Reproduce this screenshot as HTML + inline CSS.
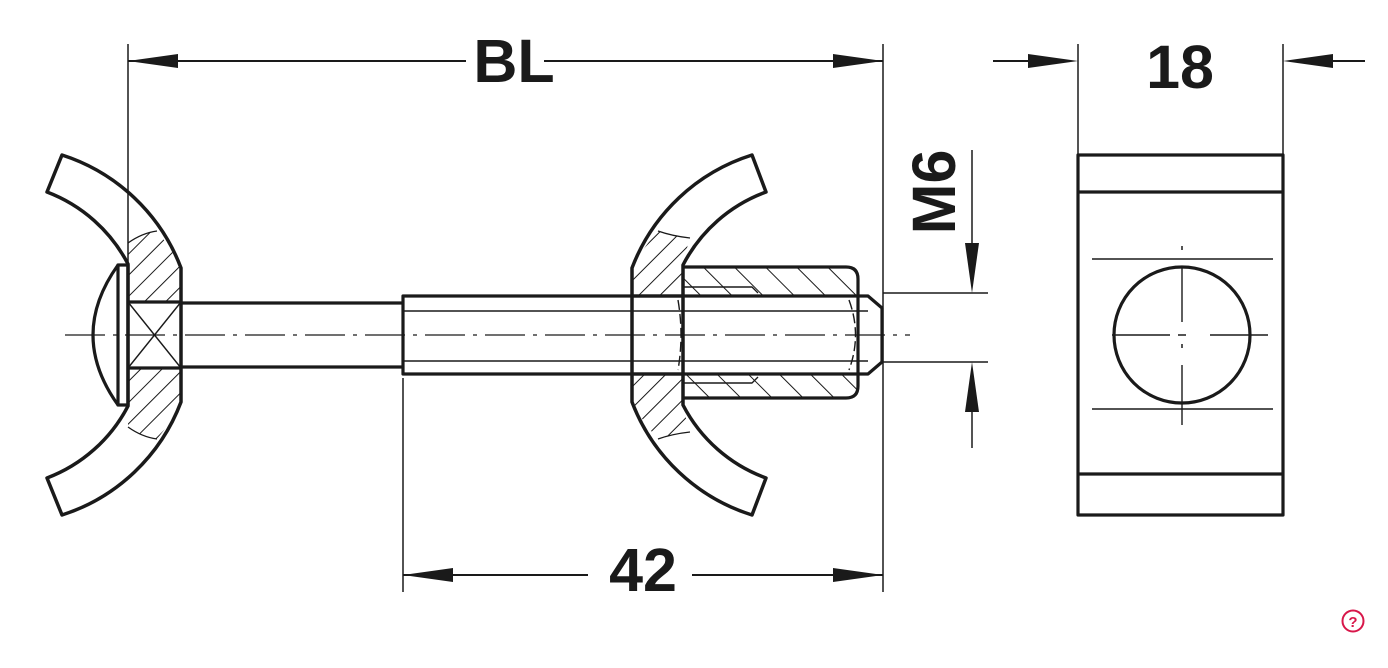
<!DOCTYPE html>
<html><head><meta charset="utf-8"><style>
html,body{margin:0;padding:0;background:#fff;}
svg{display:block;}
text{font-family:"Liberation Sans",Arial,sans-serif;font-weight:bold;fill:#1a1a1a;}
</style></head><body>
<svg width="1388" height="668" viewBox="0 0 1388 668" xmlns="http://www.w3.org/2000/svg">
<defs>
<pattern id="hf" patternUnits="userSpaceOnUse" width="15" height="15" patternTransform="rotate(45)">
<line x1="0" y1="0" x2="0" y2="15" stroke="#1a1a1a" stroke-width="2"/>
</pattern>
<pattern id="hb" patternUnits="userSpaceOnUse" width="22" height="22" patternTransform="rotate(-45)">
<line x1="0" y1="0" x2="0" y2="22" stroke="#1a1a1a" stroke-width="2"/>
</pattern>
</defs>
<g fill="none" stroke="#1a1a1a" stroke-linejoin="round">
<line x1="128" y1="44" x2="128" y2="265" stroke-width="1.5"/>
<line x1="883" y1="44" x2="883" y2="592" stroke-width="1.5"/>
<line x1="128" y1="61" x2="466" y2="61" stroke-width="2"/>
<line x1="544" y1="61" x2="883" y2="61" stroke-width="2"/>
<line x1="403" y1="378" x2="403" y2="592" stroke-width="1.5"/>
<line x1="403" y1="575" x2="588" y2="575" stroke-width="2"/>
<line x1="692" y1="575" x2="883" y2="575" stroke-width="2"/>
<line x1="883" y1="293" x2="988" y2="293" stroke-width="1.5"/>
<line x1="883" y1="362" x2="988" y2="362" stroke-width="1.5"/>
<line x1="972" y1="150" x2="972" y2="260" stroke-width="1.5"/>
<line x1="972" y1="395" x2="972" y2="448" stroke-width="1.5"/>
<line x1="1078" y1="44" x2="1078" y2="155" stroke-width="1.5"/>
<line x1="1283" y1="44" x2="1283" y2="155" stroke-width="1.5"/>
<line x1="993" y1="61" x2="1040" y2="61" stroke-width="2"/>
<line x1="1320" y1="61" x2="1365" y2="61" stroke-width="2"/>

<path d="M128,243 Q142,233 157,231 A189,189 0 0 1 181,268 L181,302 L128,302 Z" fill="url(#hf)" stroke="none"/>
<path d="M128,427 Q142,437 157,439 A189,189 0 0 0 181,402 L181,368 L128,368 Z" fill="url(#hf)" stroke="none"/>
<path d="M128,243 Q142,233 157,231" stroke-width="1.3"/>
<path d="M128,427 Q142,437 157,439" stroke-width="1.3"/>
<path d="M62,155 A189,189 0 0 1 181,268 L181,402 A189,189 0 0 1 62,515 L47,478 A152,152 0 0 0 128,406 L128,264 A152,152 0 0 0 47,192 Z" stroke-width="3.5"/>
<rect x="118" y="265" width="10" height="140" stroke-width="3.2"/>
<path d="M118,265 Q68,335 118,405" stroke-width="3.2"/>
<line x1="128" y1="302" x2="181" y2="302" stroke-width="3.2"/>
<line x1="128" y1="368" x2="181" y2="368" stroke-width="3.2"/>
<line x1="128" y1="302" x2="181" y2="368" stroke-width="1.4"/>
<line x1="181" y1="302" x2="128" y2="368" stroke-width="1.4"/>
<line x1="181" y1="303" x2="403" y2="303" stroke-width="3.2"/>
<line x1="181" y1="367" x2="403" y2="367" stroke-width="3.2"/>
<path d="M403,296 L868,296 L882,308 L882,362 L868,374 L403,374 Z" stroke-width="3.2"/>
<line x1="403" y1="311" x2="868" y2="311" stroke-width="1.6"/>
<line x1="403" y1="361" x2="868" y2="361" stroke-width="1.6"/>
<path d="M849,300 Q862,335 849,370" stroke-width="1.4" stroke-dasharray="10,4"/>
<path d="M678,300 Q684,335 678,370" stroke-width="1.4" stroke-dasharray="10,4"/>

<path d="M632,268 A189,189 0 0 1 658,231 Q672,236 690,238 Q686,250 683,265 L683,296 L632,296 Z" fill="url(#hf)" stroke="none"/>
<path d="M632,402 A189,189 0 0 0 658,439 Q672,434 690,432 Q686,420 683,405 L683,374 L632,374 Z" fill="url(#hf)" stroke="none"/>
<path d="M658,231 Q672,236 690,238" stroke-width="1.3"/>
<path d="M658,439 Q672,434 690,432" stroke-width="1.3"/>
<path d="M752,155 A189,189 0 0 0 632,268 L632,402 A189,189 0 0 0 752,515 L766,478 A152,152 0 0 1 683,405 L683,265 A152,152 0 0 1 766,192 Z" stroke-width="3.5"/>
<path d="M683,267 L846,267 Q858,267 858,279 L858,296 L683,296 Z" fill="url(#hb)" stroke="none"/>
<path d="M683,374 L858,374 L858,386 Q858,398 846,398 L683,398 Z" fill="url(#hb)" stroke="none"/>
<path d="M683,267 L846,267 Q858,267 858,279 L858,386 Q858,398 846,398 L683,398" stroke-width="3.2"/>
<path d="M683,287 L752,287 L758,293" stroke-width="1.4"/>
<path d="M683,383 L752,383 L758,377" stroke-width="1.4"/>
<line x1="632" y1="296" x2="683" y2="296" stroke-width="3.2"/>
<line x1="632" y1="374" x2="683" y2="374" stroke-width="3.2"/>

<line x1="65" y1="335" x2="910" y2="335" stroke-width="1.3" stroke-dasharray="40,8,4,8"/>

<rect x="1078" y="155" width="205" height="360" stroke-width="3.2"/>
<line x1="1078" y1="192" x2="1283" y2="192" stroke-width="3.2"/>
<line x1="1078" y1="474" x2="1283" y2="474" stroke-width="3.2"/>
<line x1="1092" y1="259" x2="1273" y2="259" stroke-width="1.4"/>
<line x1="1092" y1="409" x2="1273" y2="409" stroke-width="1.4"/>
<circle cx="1182" cy="335" r="68" stroke-width="3.2"/>
<line x1="1182" y1="246" x2="1182" y2="250" stroke-width="1.5"/>
<line x1="1182" y1="266" x2="1182" y2="322" stroke-width="1.4"/>
<line x1="1182" y1="344" x2="1182" y2="348" stroke-width="1.5"/>
<line x1="1182" y1="365" x2="1182" y2="425" stroke-width="1.4"/>
<line x1="1112" y1="335" x2="1170" y2="335" stroke-width="1.4"/>
<line x1="1178" y1="335" x2="1186" y2="335" stroke-width="1.5"/>
<line x1="1210" y1="335" x2="1268" y2="335" stroke-width="1.4"/>

<circle cx="1353" cy="621" r="10.5" stroke="#d8174a" stroke-width="2"/>
</g>
<g fill="#1a1a1a">
<polygon points="128,61 178,54 178,68"/>
<polygon points="883,61 833,54 833,68"/>
<polygon points="403,575 453,568 453,582"/>
<polygon points="883,575 833,568 833,582"/>
<polygon points="972,293 965,243 979,243"/>
<polygon points="972,362 965,412 979,412"/>
<polygon points="1078,61 1028,54 1028,68"/>
<polygon points="1283,61 1333,54 1333,68"/>
</g>
<text x="514" y="82" font-size="61" text-anchor="middle">BL</text>
<text x="643" y="591" font-size="61" text-anchor="middle">42</text>
<text x="1180" y="88" font-size="61" text-anchor="middle">18</text>
<text transform="translate(955,192) rotate(-90)" font-size="61" text-anchor="middle">M6</text>
<text x="1353" y="627" font-size="15" text-anchor="middle" style="fill:#d8174a">?</text>
</svg>
</body></html>
